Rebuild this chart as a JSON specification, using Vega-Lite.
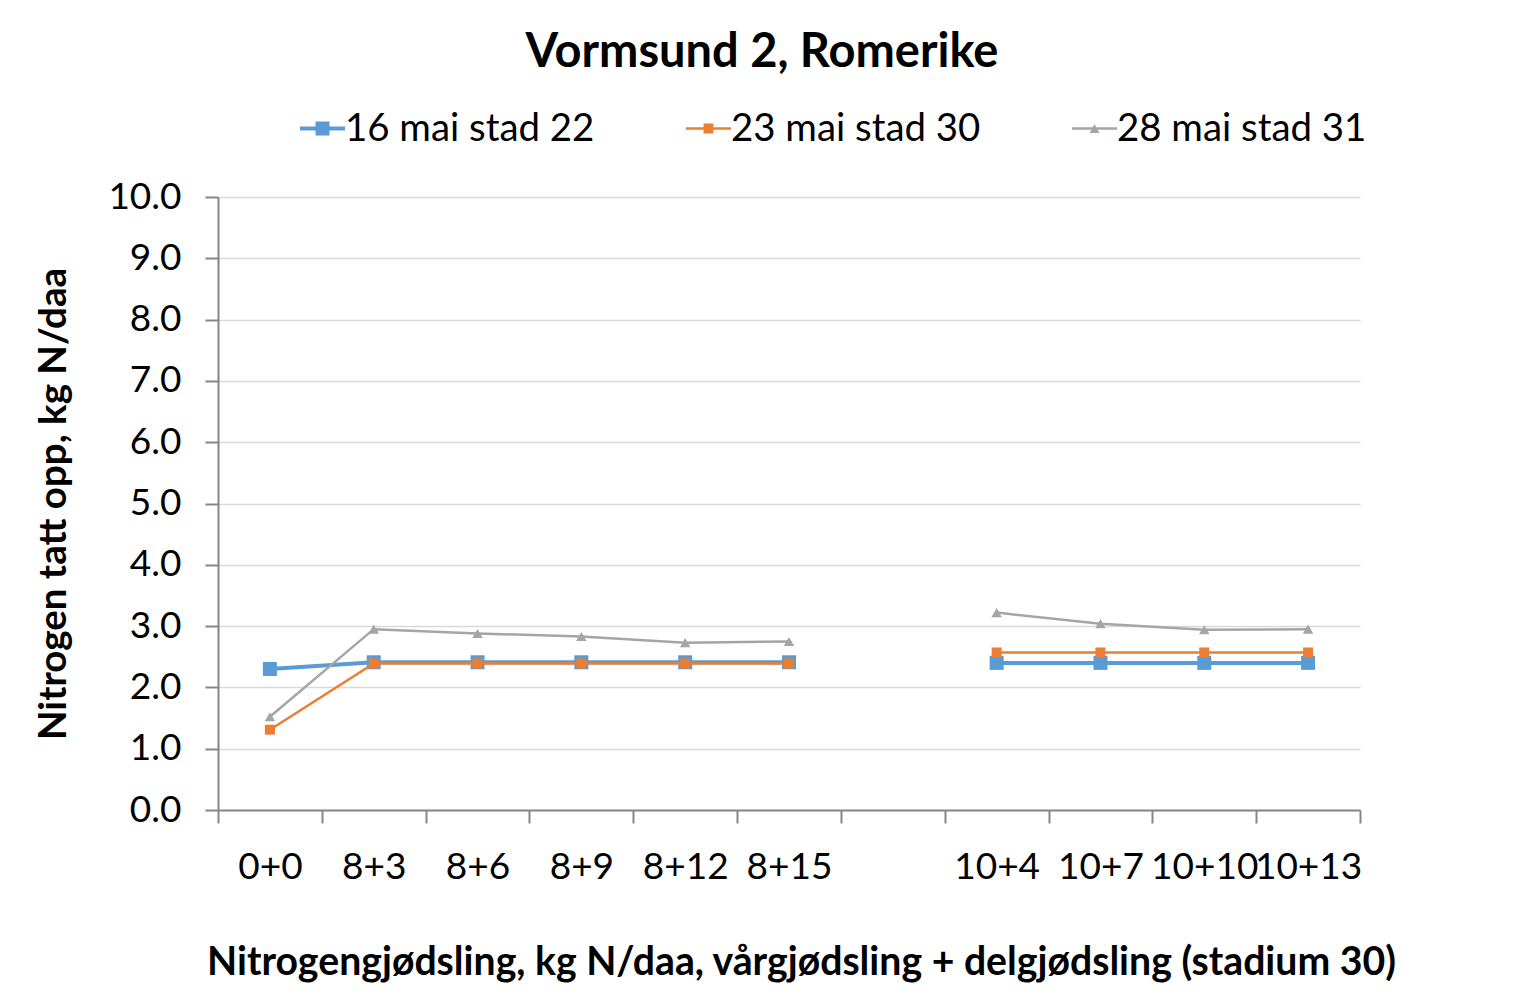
{
  "$schema": "https://vega.github.io/schema/vega-lite/v6.json",
  "autosize": "none",
  "width": 1142,
  "height": 613,
  "padding": {"left": 218, "top": 197, "right": 165, "bottom": 194},
  "background": "white",
  "config": {
    "font": "Lato",
    "view": {"stroke": null},
    "axis": {"labelFont": "Lato", "titleFont": "Lato", "labelColor": "black", "titleColor": "black"}
  },
  "title": {
    "text": "Vormsund 2, Romerike",
    "font": "Lato",
    "fontSize": 47,
    "fontWeight": "bold",
    "color": "black",
    "anchor": "middle",
    "offset": 29,
    "dx": -27,
    "frame": "group"
  },
  "data": {
    "values": [
      {"x": "0+0", "grp": "A", "series": "16 mai stad 22", "v": 2.30},
      {"x": "8+3", "grp": "A", "series": "16 mai stad 22", "v": 2.41},
      {"x": "8+6", "grp": "A", "series": "16 mai stad 22", "v": 2.41},
      {"x": "8+9", "grp": "A", "series": "16 mai stad 22", "v": 2.41},
      {"x": "8+12", "grp": "A", "series": "16 mai stad 22", "v": 2.41},
      {"x": "8+15", "grp": "A", "series": "16 mai stad 22", "v": 2.41},
      {"x": "10+4", "grp": "B", "series": "16 mai stad 22", "v": 2.40},
      {"x": "10+7", "grp": "B", "series": "16 mai stad 22", "v": 2.40},
      {"x": "10+10", "grp": "B", "series": "16 mai stad 22", "v": 2.40},
      {"x": "10+13", "grp": "B", "series": "16 mai stad 22", "v": 2.40},
      {"x": "0+0", "grp": "A", "series": "23 mai stad 30", "v": 1.31},
      {"x": "8+3", "grp": "A", "series": "23 mai stad 30", "v": 2.39},
      {"x": "8+6", "grp": "A", "series": "23 mai stad 30", "v": 2.39},
      {"x": "8+9", "grp": "A", "series": "23 mai stad 30", "v": 2.39},
      {"x": "8+12", "grp": "A", "series": "23 mai stad 30", "v": 2.39},
      {"x": "8+15", "grp": "A", "series": "23 mai stad 30", "v": 2.39},
      {"x": "10+4", "grp": "B", "series": "23 mai stad 30", "v": 2.57},
      {"x": "10+7", "grp": "B", "series": "23 mai stad 30", "v": 2.57},
      {"x": "10+10", "grp": "B", "series": "23 mai stad 30", "v": 2.57},
      {"x": "10+13", "grp": "B", "series": "23 mai stad 30", "v": 2.57},
      {"x": "0+0", "grp": "A", "series": "28 mai stad 31", "v": 1.52},
      {"x": "8+3", "grp": "A", "series": "28 mai stad 31", "v": 2.95},
      {"x": "8+6", "grp": "A", "series": "28 mai stad 31", "v": 2.88},
      {"x": "8+9", "grp": "A", "series": "28 mai stad 31", "v": 2.83},
      {"x": "8+12", "grp": "A", "series": "28 mai stad 31", "v": 2.73},
      {"x": "8+15", "grp": "A", "series": "28 mai stad 31", "v": 2.75},
      {"x": "10+4", "grp": "B", "series": "28 mai stad 31", "v": 3.22},
      {"x": "10+7", "grp": "B", "series": "28 mai stad 31", "v": 3.04},
      {"x": "10+10", "grp": "B", "series": "28 mai stad 31", "v": 2.94},
      {"x": "10+13", "grp": "B", "series": "28 mai stad 31", "v": 2.95}
    ]
  },
  "encoding": {
    "x": {
      "field": "x",
      "type": "nominal",
      "sort": null,
      "scale": {"domain": ["0+0", "8+3", "8+6", "8+9", "8+12", "8+15", " ", "10+4", "10+7", "10+10", "10+13"], "paddingInner": 0, "paddingOuter": 0},
      "axis": {
        "title": "Nitrogengjødsling, kg N/daa, vårgjødsling + delgjødsling (stadium 30)",
        "titleFontSize": 39.2,
        "titleFontWeight": "bold",
        "titlePadding": 58,
        "titleX": 583,
        "labelFontSize": 37,
        "labelAngle": 0,
        "labelPadding": 26,
        "tickBand": "extent",
        "tickSize": 13,
        "tickWidth": 2,
        "tickColor": "#868686",
        "domainColor": "#868686",
        "domainWidth": 2,
        "grid": false,
        "labelOverlap": false
      }
    },
    "y": {
      "field": "v",
      "type": "quantitative",
      "scale": {"domain": [0, 10], "nice": false},
      "axis": {
        "title": "Nitrogen tatt opp, kg N/daa",
        "titleFontSize": 38.5,
        "titleFontWeight": "bold",
        "titlePadding": 34,
        "labelFontSize": 37,
        "labelPadding": 24,
        "values": [0, 1, 2, 3, 4, 5, 6, 7, 8, 9, 10],
        "format": ".1f",
        "tickSize": 13,
        "tickWidth": 2,
        "tickColor": "#868686",
        "domainColor": "#868686",
        "domainWidth": 2,
        "grid": true,
        "gridColor": "#d9d9d9",
        "gridWidth": 1.5
      }
    },
    "color": {
      "field": "series",
      "type": "nominal",
      "scale": {"domain": ["16 mai stad 22", "23 mai stad 30", "28 mai stad 31"], "range": ["#5B9BD5", "#ED7D31", "#A5A5A5"]},
      "legend": {
        "title": null,
        "orient": "none",
        "direction": "horizontal",
        "legendX": 82,
        "legendY": -91,
        "labelFontSize": 38.4,
        "labelColor": "black",
        "labelFont": "Lato",
        "labelLimit": 500,
        "symbolSize": 2025,
        "symbolType": {"expr": "datum.value == '16 mai stad 22' ? 'M-1,-0.089H1V0.089H-1Z M-0.31,-0.31H0.31V0.31H-0.31Z' : datum.value == '23 mai stad 30' ? 'M-1,-0.056H1V0.056H-1Z M-0.22,-0.22H0.22V0.22H-0.22Z' : 'M-1,-0.056H1V0.056H-1Z M-0.22,0.2L0,-0.2L0.22,0.2Z'"},
        "symbolOpacity": 1,
        "labelOffset": 0,
        "columnPadding": 91,
        "symbolStrokeWidth": 0
      }
    }
  },
  "layer": [
    {
      "transform": [{"filter": {"field": "series", "equal": "16 mai stad 22"}}],
      "mark": {"type": "line", "strokeWidth": 4, "point": {"shape": "square", "size": 196, "filled": true, "opacity": 1}},
      "encoding": {"detail": {"field": "grp"}}
    },
    {
      "transform": [{"filter": {"field": "series", "equal": "23 mai stad 30"}}],
      "mark": {"type": "line", "strokeWidth": 2.5, "point": {"shape": "square", "size": 100, "filled": true, "opacity": 1}},
      "encoding": {"detail": {"field": "grp"}}
    },
    {
      "transform": [{"filter": {"field": "series", "equal": "28 mai stad 31"}}],
      "mark": {"type": "line", "strokeWidth": 2.5, "point": {"shape": "triangle-up", "size": 110, "filled": true, "opacity": 1}},
      "encoding": {"detail": {"field": "grp"}}
    }
  ]
}
